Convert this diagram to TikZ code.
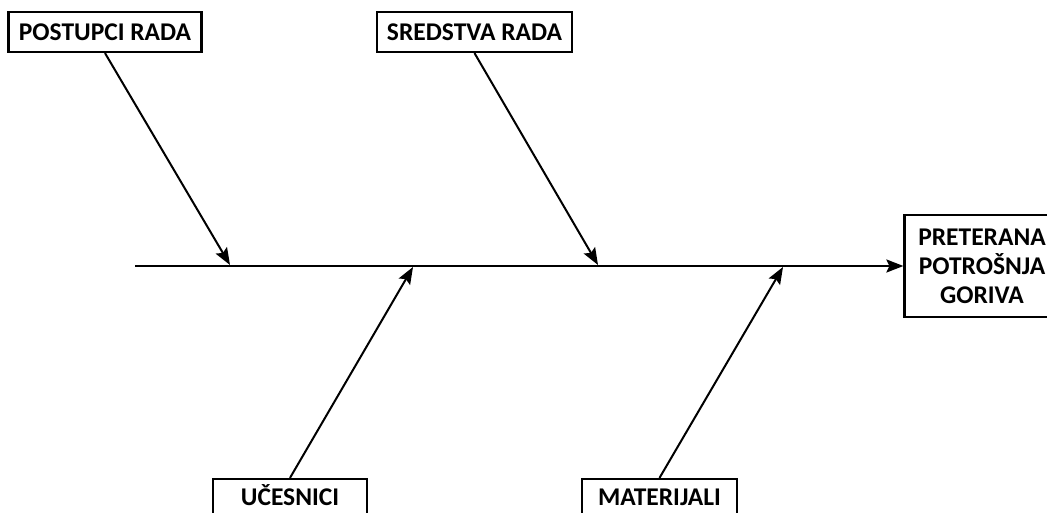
\documentclass[tikz,border=0pt]{standalone}
\usepackage{fontspec}
\setmainfont{Carlito}
\usetikzlibrary{arrows.meta}
\begin{document}
\begin{tikzpicture}[x=1pt,y=-1pt,
  cause/.style={draw, line width=2.2pt, font=\fontsize{25.5}{29}\selectfont\bfseries,
    text height=17pt, text depth=0pt, inner sep=0pt, minimum height=40pt},
  effectbox/.style={draw, line width=2.2pt, font=\fontsize{25.5}{29}\selectfont\bfseries,
    align=center, inner sep=0pt, minimum width=155pt, minimum height=102pt},
  bone/.style={line width=2pt, -{Stealth[length=17pt,width=13pt,inset=3pt]}},
  spine/.style={line width=2.3pt, -{Stealth[length=17pt,width=13pt,inset=3pt]}}]
\useasboundingbox (0,0) rectangle (1047,513);
\clip (0,0) rectangle (1047,513);
% cause boxes
\node[cause, minimum width=193pt] (postupci) at (105,32) {POSTUPCI RADA};
\node[cause, minimum width=195pt] (sredstva) at (474.5,32) {SREDSTVA RADA};
\node[cause, minimum width=154pt, minimum height=36pt] (ucesnici) at (290,497) {UČESNICI};
\node[cause, minimum width=155pt, minimum height=36pt] (materijali) at (659.5,497) {MATERIJALI};
% effect box
\node[effectbox] (effect) at (982,266) {PRETERANA\\POTROŠNJA\\GORIVA};
% spine
\coordinate (tail) at (135,266);
\draw[spine] (tail) -- (effect.west);
% junctions on the spine
\coordinate (j1) at (230,265);
\coordinate (j2) at (598,265);
\coordinate (j3) at (413,267);
\coordinate (j4) at (783,267);
\draw[bone] (postupci.south) -- (j1);
\draw[bone] (sredstva.south) -- (j2);
\draw[bone] (ucesnici.north) -- (j3);
\draw[bone] (materijali.north) -- (j4);
\end{tikzpicture}
\end{document}
